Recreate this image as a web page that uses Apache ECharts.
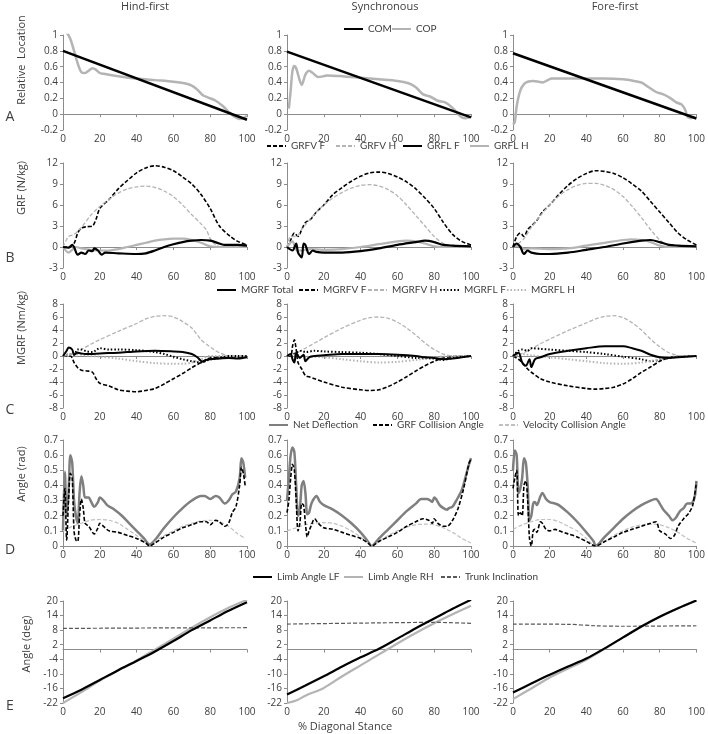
<!DOCTYPE html>
<html><head><meta charset="utf-8">
<script src="https://cdn.jsdelivr.net/npm/echarts@6/dist/echarts.min.js"></script>
<style>html,body{margin:0;padding:0;background:#fff}#c{width:708px;height:734px}</style>
</head><body><div id="c"></div>
<script>
// ---------- tick settings ----------
const xTicks = {min:0, max:100, interval:20};
const yA = {min:-0.2, max:1, interval:0.2};
const yB = {min:-3, max:12, interval:3};
const yC = {min:-8, max:8, interval:2};
const yD = {min:0, max:0.7, interval:0.1};
const yE = {min:-22, max:20, interval:6};
const colTitles = ['Hind-first','Synchronous','Fore-first'];
const rowLetters = ['A','B','C','D','E'];
const yNames = ['Relative  Location','GRF (N/kg)','MGRF (Nm/kg)','Angle (rad)','Angle (deg)'];
const xName = '% Diagonal Stance';

// ---------- Row A : COM / COP ----------
const A1_COM = [[0,0.8],[100,-0.07]];
const A1_COP = [[0,1.05],[2,1.03],[4,0.95],[6,0.8],[8,0.64],[10,0.53],[12,0.52],[14,0.55],[16,0.58],[18,0.56],[20,0.52],[22,0.51],[30,0.48],[40,0.45],[50,0.43],[60,0.41],[66,0.39],[70,0.36],[73,0.31],[76,0.24],[79,0.21],[83,0.17],[87,0.1],[90,0.03],[93,-0.03],[96,-0.06],[98,-0.05],[100,-0.02]];
const A2_COM = [[0,0.79],[100,-0.04]];
const A2_COP = [[1,0.07],[2,0.3],[3,0.55],[4,0.61],[5,0.58],[7,0.42],[8,0.37],[10,0.5],[12,0.55],[14,0.52],[17,0.47],[20,0.48],[22,0.49],[30,0.48],[40,0.46],[50,0.44],[60,0.42],[66,0.39],[70,0.34],[74,0.25],[78,0.22],[82,0.17],[86,0.15],[90,0.08],[93,0.0],[95,-0.04],[97,-0.05],[100,-0.03]];
const A3_COM = [[0,0.77],[100,-0.055]];
const A3_COP = [[0,-0.13],[1,-0.1],[2,0.1],[4,0.3],[6,0.38],[8,0.41],[11,0.42],[14,0.41],[16,0.4],[19,0.43],[21,0.45],[30,0.45],[40,0.45],[50,0.45],[60,0.44],[66,0.42],[70,0.4],[74,0.34],[78,0.28],[82,0.25],[86,0.2],[89,0.15],[92,0.12],[94,0.05],[95,-0.03],[97,-0.05],[99,-0.03]];

// ---------- Row B : GRF ----------
const B1_GRFVF = [[0,0],[3,0],[6,0.5],[8,2],[10,2.7],[13,2.9],[16,3.0],[18,4],[20,5.5],[25,6.8],[30,8.3],[35,9.5],[40,10.6],[45,11.3],[50,11.6],[55,11.4],[60,10.9],[65,10],[70,9],[75,7.5],[80,5.5],[85,3],[91,1.5],[95,0.8],[100,0.3]];
const B1_GRFVH = [[0,0],[3,1.5],[6,1.8],[10,2.8],[15,4.5],[20,5.8],[25,6.8],[30,7.7],[35,8.3],[40,8.6],[45,8.7],[50,8.5],[55,8],[60,7.2],[65,6],[70,4.6],[75,3.3],[78,2.4],[80,1.2],[83,0.3],[86,0],[100,0]];
const B1_GRFLF = [[0,0],[3,-0.1],[5,0.3],[6,0],[8,-1.1],[10,-0.8],[12,-1],[14,-0.5],[16,-0.6],[17,-0.2],[19,-0.5],[21,-1.1],[23,-0.8],[30,-0.9],[40,-1.0],[45,-0.9],[50,-0.5],[55,0],[60,0.4],[65,0.7],[70,0.9],[75,1.0],[80,0.9],[85,0.5],[88,0.3],[95,0.3],[100,0.2]];
const B1_GRFLH = [[0,0],[3,-0.8],[5,-0.4],[7,0],[10,-0.2],[15,-0.4],[20,-0.5],[25,-0.5],[30,-0.3],[35,0],[40,0.3],[45,0.6],[50,0.9],[55,1.1],[60,1.2],[65,1.2],[70,1.0],[75,0.6],[80,0.1],[85,0],[100,0]];
const B2_GRFVF = [[0,0],[2,1],[4,2],[6,1.5],[8,2.5],[10,3.5],[13,4],[16,5],[20,6],[25,7.5],[30,8.5],[35,9.4],[40,10.1],[45,10.6],[50,10.7],[55,10.5],[60,10],[65,9.3],[70,8.3],[75,7],[80,5.5],[85,3.5],[90,1.8],[95,0.8],[100,0.3]];
const B2_GRFVH = [[0,0],[2,1.5],[5,1.5],[8,2.5],[12,3.8],[16,5],[20,6],[25,7],[30,7.8],[35,8.4],[40,8.8],[45,8.9],[50,8.7],[55,8.2],[60,7.3],[65,6],[70,4.5],[75,3],[80,1.5],[85,0.5],[90,0],[100,0]];
const B2_GRFLF = [[0,0],[3,-0.5],[5,0.5],[6,-0.8],[8,-1.5],[9,0.5],[10,0.3],[12,-1],[14,-0.5],[16,-0.7],[20,-0.8],[30,-0.8],[40,-0.6],[50,-0.2],[60,0.3],[70,0.7],[75,0.9],[80,0.7],[85,0.3],[90,0.2],[100,0.1]];
const B2_GRFLH = [[0,0],[3,0.8],[5,-0.4],[8,-0.5],[12,-0.3],[20,-0.4],[30,-0.3],[40,0],[50,0.4],[60,0.8],[65,0.9],[70,0.8],[75,0.5],[80,0.1],[85,0],[100,0]];
const B3_GRFVF = [[0,0],[2,1.5],[4,2],[6,1.5],[8,2.5],[10,3],[13,3.8],[16,5],[20,6],[25,7.5],[30,8.8],[35,9.8],[40,10.5],[45,10.9],[50,10.8],[55,10.5],[60,9.9],[65,9],[70,8],[75,6.5],[80,5],[85,3.5],[90,2],[95,1],[100,0.3]];
const B3_GRFVH = [[0,0],[3,0.5],[6,1.2],[10,2.8],[15,4.5],[20,6],[25,7.3],[30,8.2],[35,8.8],[40,9.1],[45,9.1],[50,8.8],[55,8.2],[60,7.2],[65,5.8],[70,4.2],[75,2.5],[80,1],[85,0.2],[90,0],[100,0]];
const B3_GRFLF = [[0,0],[2,0.5],[4,0],[6,-1],[8,-0.5],[10,-0.8],[15,-1],[20,-1],[30,-0.8],[40,-0.4],[50,0],[60,0.5],[70,0.9],[75,1.0],[80,0.7],[85,0.3],[90,0.2],[100,0.1]];
const B3_GRFLH = [[0,0],[3,0.2],[6,-0.3],[10,-0.2],[20,-0.3],[30,-0.2],[40,0.2],[50,0.6],[60,1.0],[65,1.1],[70,1.0],[75,0.7],[80,0.2],[85,0],[100,0]];

// ---------- Row C : MGRF ----------
const C1_TOT = [[0,0],[2,0.8],[3,1.3],[5,1.0],[6,0.2],[8,0.5],[10,0.4],[12,0.3],[15,0.3],[20,0.4],[30,0.5],[40,0.7],[50,0.8],[60,0.7],[65,0.6],[70,0.3],[73,-0.2],[76,-0.9],[78,-0.6],[80,-0.5],[85,-0.4],[90,-0.3],[95,-0.4],[100,-0.2]];
const C1_VF = [[0,0],[4,0],[6,-1],[8,-1.8],[10,-2.2],[13,-2.3],[16,-2.5],[18,-3.5],[20,-4.2],[25,-4.6],[30,-5.2],[35,-5.4],[40,-5.5],[45,-5.3],[50,-5],[55,-4.3],[60,-3.5],[65,-2.7],[70,-1.8],[75,-1],[78,-0.5],[80,-0.3],[90,-0.2],[100,-0.2]];
const C1_VH = [[0,0],[5,0.3],[10,1],[15,1.8],[20,2.5],[30,3.8],[40,5],[45,5.7],[50,6.1],[55,6.2],[60,6],[65,5.3],[70,4.3],[75,2.5],[78,1.8],[82,1.0],[85,0.5],[90,0],[95,-0.1],[100,0]];
const C1_LF = [[0,0],[4,0.3],[6,0.2],[8,1],[10,1],[13,0.7],[16,0.6],[20,1.2],[25,1.0],[30,1.0],[40,0.9],[50,0.6],[55,0.3],[60,-0.1],[65,-0.5],[70,-0.8],[75,-1.0],[78,-0.7],[82,-0.4],[86,-0.3],[90,0],[95,0],[100,0]];
const C1_LH = [[0,0],[5,0.3],[10,0.2],[15,0],[20,-0.1],[30,-0.4],[40,-0.8],[50,-1.1],[60,-1.2],[65,-1.2],[70,-1.0],[75,-0.5],[80,0],[100,0]];
const C2_TOT = [[0,0],[2,0.3],[3,-0.5],[4,-1],[5,0.5],[7,-0.3],[9,0.2],[10,-0.8],[12,-0.2],[15,0],[20,0.1],[30,0.3],[40,0.3],[50,0.3],[60,0.2],[70,0],[75,-0.2],[80,-0.3],[85,-0.5],[90,-0.4],[95,-0.2],[100,0]];
const C2_VF = [[0,0],[2,0],[3,1.5],[4,2.5],[5,1],[6,-1],[8,-2],[10,-3],[12,-3.2],[15,-3.5],[20,-4],[30,-4.8],[40,-5.2],[45,-5.3],[50,-5.2],[55,-4.7],[60,-4],[65,-3.2],[70,-2.3],[75,-1.5],[80,-0.8],[85,-0.3],[90,-0.1],[100,0]];
const C2_VH = [[0,0],[5,0.5],[10,1.2],[15,2.0],[20,2.8],[30,4.3],[40,5.5],[45,5.9],[50,6.0],[55,5.8],[60,5.2],[65,4.3],[70,3.2],[75,2],[80,1],[85,0.3],[90,0],[100,0]];
const C2_LF = [[0,0],[3,0.2],[5,0.5],[8,0.8],[10,0.6],[15,0.8],[20,0.7],[30,0.6],[40,0.5],[50,0.3],[60,0],[70,-0.3],[80,-0.4],[85,-0.6],[90,-0.3],[100,0]];
const C2_LH = [[0,0],[5,0.2],[10,-0.1],[20,-0.2],[30,-0.5],[40,-0.8],[50,-1.0],[60,-0.9],[70,-0.6],[80,-0.2],[90,0],[100,0]];
const C3_TOT = [[0,0],[3,0.5],[5,-1],[7,-1.5],[9,-0.5],[10,-1.7],[12,-0.5],[15,-0.2],[20,0.3],[30,0.8],[40,1.2],[50,1.5],[60,1.5],[65,1.2],[70,0.8],[75,0.2],[80,-0.2],[85,-0.3],[90,-0.2],[100,0]];
const C3_VF = [[0,0],[3,-0.5],[5,-1],[8,-2],[10,-2.5],[15,-3.5],[20,-4],[30,-4.6],[40,-5],[45,-5.1],[50,-5],[55,-4.8],[60,-4.3],[65,-3.5],[70,-2.5],[75,-1.7],[80,-0.8],[85,-0.3],[90,-0.1],[100,0]];
const C3_VH = [[0,0],[5,0.4],[10,1.1],[15,1.9],[20,2.6],[30,3.9],[40,5.1],[45,5.7],[50,6.1],[55,6.2],[60,5.9],[65,5.1],[70,4],[75,2.6],[80,1.4],[85,0.5],[90,0.1],[100,0]];
const C3_LF = [[0,0],[3,0.8],[5,1],[8,0.8],[10,1.2],[15,1.1],[20,1.0],[30,0.8],[40,0.6],[50,0.3],[60,-0.1],[70,-0.5],[75,-0.8],[80,-0.6],[85,-0.3],[90,-0.1],[100,0]];
const C3_LH = [[0,0],[5,0.3],[10,0.1],[20,-0.2],[30,-0.5],[40,-0.8],[50,-1.1],[60,-1.2],[70,-1.0],[80,-0.5],[90,0],[100,0]];

// ---------- Row D : angles (rad) ----------
const D1_NET = [[0,0.1],[1,0.49],[2,0.2],[3,0.35],[4,0.6],[5,0.55],[6,0.3],[7,0.2],[8,0.15],[9,0.35],[10,0.46],[11,0.4],[12,0.32],[14,0.32],[15,0.3],[17,0.26],[19,0.29],[20,0.32],[22,0.3],[24,0.27],[28,0.24],[32,0.2],[36,0.15],[40,0.1],[44,0.05],[47,0.01],[50,0.04],[55,0.12],[60,0.19],[65,0.25],[70,0.3],[75,0.33],[77,0.33],[80,0.31],[83,0.33],[85,0.32],[88,0.28],[90,0.3],[92,0.34],[94,0.36],[96,0.45],[97,0.58],[98,0.55],[99,0.45]];
const D1_GRF = [[0,0.2],[1,0.38],[2,0.04],[3,0.3],[4,0.48],[5,0.45],[6,0.1],[7,0.04],[8,0.03],[9,0.2],[10,0.31],[11,0.25],[12,0.15],[14,0.13],[17,0.08],[19,0.12],[20,0.15],[22,0.13],[25,0.1],[30,0.09],[35,0.07],[40,0.05],[45,0.02],[47,0.0],[50,0.02],[55,0.06],[60,0.09],[65,0.12],[70,0.14],[75,0.16],[78,0.16],[80,0.14],[83,0.17],[85,0.16],[88,0.13],[90,0.15],[92,0.22],[94,0.26],[96,0.4],[97,0.52],[98,0.48],[99,0.4]];
const D1_VEL = [[0,0.1],[5,0.13],[10,0.15],[15,0.17],[20,0.175],[25,0.17],[30,0.15],[35,0.11],[40,0.07],[45,0.02],[47,0],[50,0.03],[55,0.07],[60,0.1],[65,0.13],[70,0.15],[75,0.165],[80,0.17],[85,0.16],[90,0.13],[95,0.08],[99,0.05]];
const D2_NET = [[0,0.3],[1,0.45],[2,0.6],[3,0.65],[4,0.62],[5,0.4],[6,0.2],[7,0.25],[8,0.4],[9,0.43],[10,0.35],[11,0.21],[12,0.22],[13,0.27],[14,0.3],[16,0.33],[18,0.29],[20,0.27],[25,0.24],[30,0.2],[35,0.15],[40,0.09],[44,0.03],[46,0.0],[50,0.05],[55,0.11],[60,0.17],[65,0.23],[70,0.28],[73,0.31],[76,0.31],[78,0.3],[79,0.29],[80,0.32],[81,0.31],[83,0.27],[85,0.25],[87,0.24],[88,0.25],[90,0.26],[92,0.3],[95,0.37],[98,0.5],[100,0.58]];
const D2_GRF = [[0,0.22],[1,0.3],[2,0.45],[3,0.54],[4,0.5],[5,0.3],[6,0.1],[7,0.15],[8,0.28],[9,0.27],[10,0.15],[11,0.06],[12,0.1],[13,0.13],[15,0.18],[17,0.15],[20,0.12],[25,0.11],[30,0.09],[35,0.07],[40,0.05],[44,0.02],[46,0.0],[50,0.03],[55,0.06],[60,0.09],[65,0.13],[70,0.16],[74,0.18],[77,0.17],[79,0.15],[80,0.18],[82,0.15],[85,0.13],[87,0.13],[90,0.17],[93,0.25],[96,0.38],[99,0.55],[100,0.57]];
const D2_VEL = [[0,0.1],[5,0.12],[10,0.14],[15,0.15],[20,0.155],[25,0.15],[30,0.13],[35,0.1],[40,0.06],[45,0.01],[46,0],[50,0.03],[55,0.07],[60,0.1],[65,0.125],[70,0.14],[75,0.145],[80,0.14],[85,0.12],[90,0.09],[95,0.05],[100,0.02]];
const D3_NET = [[0,0.5],[1,0.63],[2,0.6],[3,0.35],[4,0.38],[5,0.45],[6,0.58],[7,0.55],[8,0.4],[9,0.17],[10,0.2],[11,0.28],[12,0.29],[13,0.27],[15,0.33],[16,0.35],[18,0.31],[20,0.29],[23,0.28],[25,0.27],[30,0.22],[35,0.16],[40,0.09],[44,0.03],[45,0.0],[50,0.06],[55,0.12],[60,0.18],[65,0.23],[70,0.27],[75,0.3],[78,0.31],[80,0.28],[82,0.24],[85,0.2],[87,0.17],[89,0.19],[91,0.23],[93,0.25],[95,0.28],[97,0.28],[99,0.32],[100,0.43]];
const D3_GRF = [[0,0.38],[1,0.45],[2,0.5],[3,0.2],[4,0.22],[5,0.2],[6,0.4],[7,0.43],[8,0.3],[9,0.05],[10,0.0],[11,0.1],[12,0.11],[13,0.09],[15,0.16],[16,0.15],[18,0.11],[20,0.1],[23,0.11],[25,0.1],[30,0.08],[35,0.06],[40,0.03],[45,0.0],[50,0.03],[55,0.06],[60,0.09],[65,0.11],[70,0.13],[75,0.15],[78,0.16],[80,0.1],[83,0.08],[86,0.05],[88,0.07],[90,0.13],[93,0.18],[96,0.22],[98,0.27],[100,0.42]];
const D3_VEL = [[0,0.11],[5,0.14],[10,0.16],[15,0.175],[20,0.175],[25,0.16],[30,0.13],[35,0.1],[40,0.05],[45,0.0],[50,0.03],[55,0.07],[60,0.1],[65,0.125],[70,0.14],[75,0.145],[80,0.14],[85,0.12],[90,0.09],[95,0.05],[100,0.02]];

// ---------- Row E : angles (deg) ----------
const E1_LF = [[0,-20],[10,-16.5],[20,-12.5],[30,-8.5],[40,-4.7],[50,-0.8],[60,3.5],[70,8],[80,12],[90,16],[100,19.5]];
const E1_RH = [[0,-22],[10,-17.5],[20,-12.8],[30,-8.5],[40,-4.5],[50,0],[60,4.5],[70,9],[80,13.3],[90,17.2],[100,20.5]];
const E1_TR = [[0,8.7],[50,8.9],[100,9.0]];
const E2_LF = [[0,-18.5],[10,-14.8],[20,-11],[30,-7],[40,-3.2],[50,0.3],[60,4.5],[70,8.8],[80,12.8],[90,16.8],[100,20.5]];
const E2_RH = [[0,-22],[5,-21],[10,-19],[20,-15.8],[30,-11],[40,-6.5],[50,-2],[60,2.5],[70,6.8],[80,10.8],[90,14.5],[100,18]];
const E2_TR = [[0,10.5],[50,11],[80,11.2],[100,10.8]];
const E3_LF = [[0,-17.7],[10,-14],[20,-10.4],[30,-7],[40,-3.7],[50,0.5],[60,5],[70,9.5],[80,13.5],[90,17],[100,20.2]];
const E3_RH = [[0,-20.4],[10,-16],[20,-11.5],[30,-7.8],[40,-4.2],[50,0.3],[60,5],[70,9.5],[80,13.5],[90,17],[100,20.3]];
const E3_TR = [[0,10.5],[30,10.4],[45,9.8],[60,9.6],[100,9.8]];

// ---------- layout ----------
const colLeft = [63, 287, 513];
const colWidth = [184, 184, 185];
const rowTop = [35, 163, 304, 440, 601];
const rowHeight = [95, 105, 104, 106, 102];
const yCfg = [yA, yB, yC, yD, yE];

const FONT = 'Open Sans, Liberation Sans, sans-serif';
const LFONT = 'Lato, Liberation Sans, sans-serif';
const TXT = '#404040';
const AX = '#8c8c8c';

const grids = [], xAxes = [], yAxes = [];
for (let r = 0; r < 5; r++) for (let c = 0; c < 3; c++) {
  grids.push({left: colLeft[c], top: rowTop[r], width: colWidth[c], height: rowHeight[r]});
  const gi = r*3 + c;
  xAxes.push({type:'value', gridIndex: gi, min: xTicks.min, max: xTicks.max, interval: xTicks.interval,
    axisLine:{onZero: true, lineStyle:{color: AX, width:1}}, axisTick:{show:true, length:3, lineStyle:{color:AX}},
    splitLine:{show:false}, axisLabel:{color: TXT, fontSize: 10, fontFamily: FONT, margin: 4}});
  yAxes.push({type:'value', gridIndex: gi, min: yCfg[r].min, max: yCfg[r].max, interval: yCfg[r].interval,
    axisLine:{show:true, lineStyle:{color: AX, width:1}}, axisTick:{show:true, length:3, lineStyle:{color:AX}},
    splitLine:{show:false}, axisLabel:{color: TXT, fontSize: 10, fontFamily: FONT, margin: 5}});
}

const series = [];
function add(name, data, gi, color, width, type, z) {
  series.push({name, type:'line', data, xAxisIndex: gi, yAxisIndex: gi, symbol:'none', showSymbol:false, smooth: 0.3,
    lineStyle:{color, width, type: type || 'solid'}, itemStyle:{color}, z: z || 2, silent: true});
}
const BLK = '#000000', LG = '#b4b4b4', MG = '#7f7f7f', DG = '#595959';
// A
[[A1_COM,A1_COP],[A2_COM,A2_COP],[A3_COM,A3_COP]].forEach((d,c)=>{
  add('COP', d[1], c, LG, 2.5); add('COM', d[0], c, BLK, 2.5, 'solid', 3);
});
// B
[[B1_GRFVF,B1_GRFVH,B1_GRFLF,B1_GRFLH],[B2_GRFVF,B2_GRFVH,B2_GRFLF,B2_GRFLH],[B3_GRFVF,B3_GRFVH,B3_GRFLF,B3_GRFLH]].forEach((d,c)=>{
  const gi = 3 + c;
  add('GRFV F', d[0], gi, BLK, 1.6, [4,2]);
  add('GRFV H', d[1], gi, LG, 1.3, [4,2]);
  add('GRFL F', d[2], gi, BLK, 2.2, 'solid', 3);
  add('GRFL H', d[3], gi, LG, 2.2);
});
// C
[[C1_TOT,C1_VF,C1_VH,C1_LF,C1_LH],[C2_TOT,C2_VF,C2_VH,C2_LF,C2_LH],[C3_TOT,C3_VF,C3_VH,C3_LF,C3_LH]].forEach((d,c)=>{
  const gi = 6 + c;
  add('MGRF Total', d[0], gi, BLK, 2, 'solid', 4);
  add('MGRFV F', d[1], gi, BLK, 1.6, [4,2]);
  add('MGRFV H', d[2], gi, LG, 1.3, [4,2]);
  add('MGRFL F', d[3], gi, BLK, 2, [1.5,2]);
  add('MGRFL H', d[4], gi, LG, 2, [1.5,2]);
});
// D
[[D1_NET,D1_GRF,D1_VEL],[D2_NET,D2_GRF,D2_VEL],[D3_NET,D3_GRF,D3_VEL]].forEach((d,c)=>{
  const gi = 9 + c;
  add('Net Deflection', d[0], gi, MG, 2.5);
  add('GRF Collision Angle', d[1], gi, BLK, 1.6, [4,2], 3);
  add('Velocity Collision Angle', d[2], gi, '#c0c0c0', 1.2, [4,2]);
});
// E
[[E1_LF,E1_RH,E1_TR],[E2_LF,E2_RH,E2_TR],[E3_LF,E3_RH,E3_TR]].forEach((d,c)=>{
  const gi = 12 + c;
  add('Limb Angle RH', d[1], gi, LG, 2.2);
  add('Limb Angle LF', d[0], gi, BLK, 2.2, 'solid', 3);
  add('Trunk Inclination', d[2], gi, DG, 1.2, [4,2]);
});

// one legend component per entry: [name, left, top]
const legendItems = [
  ['COM', 343, 24], ['COP', 391, 24],
  ['GRFV F', 266, 141], ['GRFV H', 335, 141], ['GRFL F', 402, 141], ['GRFL H', 469, 141],
  ['MGRF Total', 216, 285], ['MGRFV F', 298, 285], ['MGRFV H', 367, 285], ['MGRFL F', 439, 285], ['MGRFL H', 506, 285],
  ['Net Deflection', 268, 420], ['GRF Collision Angle', 372, 420], ['Velocity Collision Angle', 498, 420],
  ['Limb Angle LF', 252, 572], ['Limb Angle RH', 343, 572], ['Trunk Inclination', 440, 572]
];
const legends = legendItems.map(([n, l, t]) => ({data:[n], left:l, top:t, itemWidth:19, itemHeight:8, itemGap:0,
  selectedMode:false, itemStyle:{opacity:0, borderWidth:0}, padding:0,
  textStyle:{color: TXT, fontSize: 10, fontFamily: LFONT, padding:0}}));

const graphics = [];
const titleX = [145, 385, 615];
colTitles.forEach((t,i)=>graphics.push({type:'text', x: titleX[i], y: 7,
  style:{text: t, fill: TXT, font: '11px ' + FONT, textAlign:'center', textVerticalAlign:'middle'}}));
const letterY = [117, 258, 410, 550, 706];
rowLetters.forEach((t,i)=>graphics.push({type:'text', x: 10, y: letterY[i],
  style:{text: t, fill: TXT, font: '14px ' + FONT, textAlign:'center', textVerticalAlign:'middle'}}));
const nameX = [22, 22, 22, 22, 27], nameY = [60, 188, 328, 474, 644];
yNames.forEach((t,i)=>graphics.push({type:'text', x: nameX[i], y: nameY[i], rotation: Math.PI/2,
  style:{text: t, fill: TXT, font: '11px ' + FONT, textAlign:'center', textVerticalAlign:'middle'}}));
graphics.push({type:'text', x: 345, y: 727, style:{text: xName, fill: TXT, font: '11px ' + FONT, textAlign:'center', textVerticalAlign:'middle'}});

const chart = echarts.init(document.getElementById('c'), null, {renderer:'canvas'});
chart.setOption({animation:false, backgroundColor:'#fff', grid: grids, xAxis: xAxes, yAxis: yAxes,
  series, legend: legends, graphic: graphics});
</script></body></html>
